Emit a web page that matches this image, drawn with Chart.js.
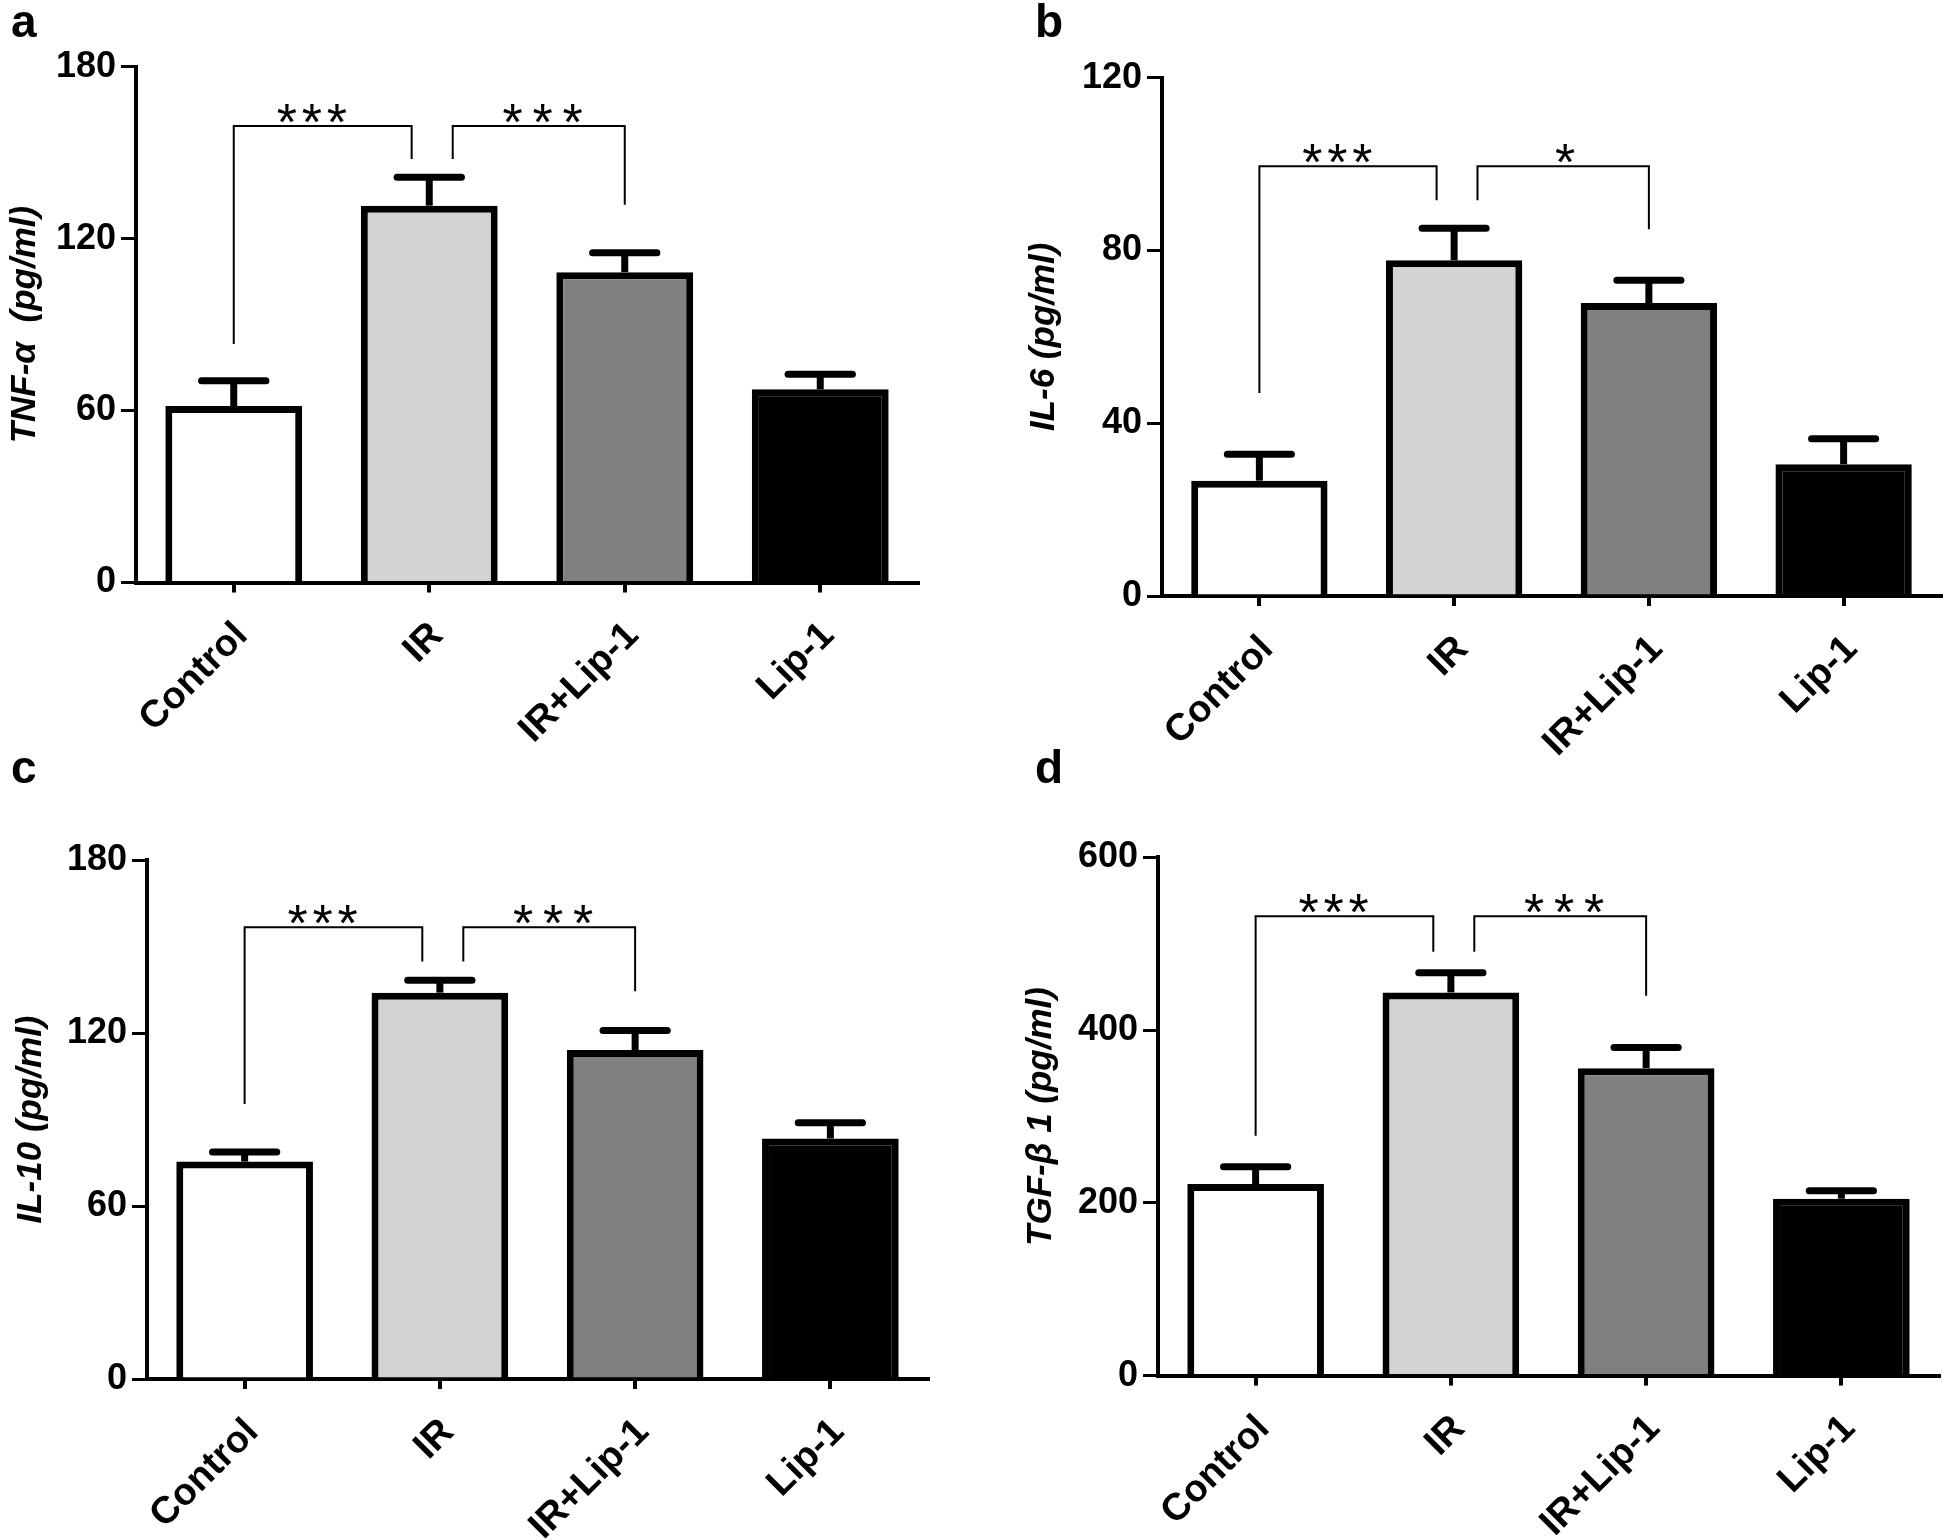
<!DOCTYPE html>
<html>
<head>
<meta charset="utf-8">
<title>Cytokine levels</title>
<script src="https://cdn.jsdelivr.net/npm/chart.js@4.4.1/dist/chart.umd.min.js"></script>
<style>
  html, body { margin: 0; padding: 0; background: #fff; }
  #wrap { position: relative; width: 1946px; height: 1540px; }
  #wrap canvas { position: absolute; }
  .letter { position: absolute; font: bold 46px "Liberation Sans", Arial, sans-serif; line-height: 1; color: #000; }
</style>
</head>
<body>
<div id="wrap">
  <canvas id="panel-a" width="973" height="770" style="left:0;top:0"></canvas>
  <canvas id="panel-b" width="973" height="770" style="left:973px;top:0"></canvas>
  <canvas id="panel-c" width="973" height="770" style="left:0;top:770px"></canvas>
  <canvas id="panel-d" width="973" height="770" style="left:973px;top:770px"></canvas>
  <div class="letter" style="left:11px;top:-2px">a</div>
  <div class="letter" style="left:1035px;top:-2px">b</div>
  <div class="letter" style="left:11px;top:744px">c</div>
  <div class="letter" style="left:1035px;top:744px">d</div>
</div>
<script>
// ── Data ──────────────────────────────────────────────────────────────────────
const groups = ["Control", "IR", "IR+Lip-1", "Lip-1"];
const barFills = ["#ffffff", "#d3d3d3", "#808080", "#000000"];

const tnfMean  = [61.6, 131.5, 108.3, 67.4];
const tnfSem   = [8.8, 9.9, 6.8, 5.3];
const il6Mean  = [26.7, 77.7, 67.8, 30.5];
const il6Sem   = [6.1, 7.4, 5.3, 5.9];
const il10Mean = [75.4, 134.0, 114.1, 83.4];
const il10Sem  = [3.3, 4.3, 6.8, 5.5];
const tgfMean  = [221.8, 443.7, 356.0, 204.8];
const tgfSem   = [19.9, 22.7, 24.0, 9.1];

const tnfTicks  = [0, 60, 120, 180];
const il6Ticks  = [0, 40, 80, 120];
const il10Ticks = [0, 60, 120, 180];
const tgfTicks  = [0, 200, 400, 600];

// significance brackets: [from group, to group, bar level, left end, right end, stars at, label]
const tnfSig  = [[0, 0.91, 159.3, 83.2, 147.8, 0.40, "***"], [1.12, 2.0, 159.3, 147.8, 131.8, 1.58, "* * *"]];
const il6Sig  = [[0, 0.91, 99.5, 47.0, 91.6, 0.40, "***"],   [1.12, 2.0, 99.5, 91.6, 84.9, 1.57, "*"]];
const il10Sig = [[0, 0.91, 156.7, 95.4, 144.8, 0.40, "***"], [1.12, 2.0, 156.7, 144.8, 134.5, 1.58, "* * *"]];
const tgfSig  = [[0, 0.91, 531.8, 277.6, 490.9, 0.40, "***"], [1.12, 2.0, 531.8, 490.9, 439.7, 1.58, "* * *"]];

// ── Styling ───────────────────────────────────────────────────────────────────
const FONT = "'Liberation Sans', Arial, sans-serif";
const CANVAS_W = 973, CANVAS_H = 770;

// error bars + significance brackets, drawn through the chart scales
const annotate = {
  id: "annotate",
  afterDatasetsDraw(chart, args, opts) {
    const { ctx } = chart;
    const xs = chart.scales.x, ys = chart.scales.y;
    const bars = chart.getDatasetMeta(0).data;
    ctx.save();
    ctx.strokeStyle = "#000";
    ctx.fillStyle = "#000";

    bars.forEach((bar, i) => {
      const top = ys.getPixelForValue(opts.mean[i] + opts.sem[i]);
      const half = bar.width * 0.235;
      ctx.lineWidth = 7;
      ctx.lineCap = "butt";
      ctx.beginPath(); ctx.moveTo(bar.x, bar.y); ctx.lineTo(bar.x, top); ctx.stroke();
      ctx.lineCap = "round";
      ctx.beginPath(); ctx.moveTo(bar.x - half, top); ctx.lineTo(bar.x + half, top); ctx.stroke();
    });

    ctx.lineWidth = 2;
    ctx.lineCap = "butt";
    ctx.font = "52px " + FONT;
    const m = ctx.measureText("*");
    opts.sig.forEach(([a, b, level, endA, endB, starAt, label]) => {
      const x0 = xs.getPixelForValue(a), x1 = xs.getPixelForValue(b);
      const yl = ys.getPixelForValue(level);
      ctx.beginPath();
      ctx.moveTo(x0, ys.getPixelForValue(endA));
      ctx.lineTo(x0, yl);
      ctx.lineTo(x1, yl);
      ctx.lineTo(x1, ys.getPixelForValue(endB));
      ctx.stroke();

      const n = label.replace(/ /g, "").length;
      const gap = label.includes(" ") ? 30 : 25;
      const cx = xs.getPixelForValue(starAt);
      const base = yl - 3 - m.actualBoundingBoxDescent;
      ctx.textAlign = "center";
      ctx.textBaseline = "alphabetic";
      for (let k = 0; k < n; k++) {
        ctx.fillText("*", cx + (k - (n - 1) / 2) * gap, base);
      }
    });
    ctx.restore();
  }
};

function makePanel(id, geo, mean, sem, ticks, title, sig) {
  return new Chart(document.getElementById(id), {
    type: "bar",
    data: {
      labels: groups,
      datasets: [{
        data: mean,
        backgroundColor: barFills,
        borderColor: "#000",
        borderWidth: 7,
        barPercentage: 0.7,
        categoryPercentage: 1,
      }],
    },
    options: {
      responsive: false,
      animation: false,
      layout: { padding: { left: geo.padLeft, top: geo.top, right: CANVAS_W - geo.right, bottom: 0 } },
      plugins: {
        legend: { display: false },
        tooltip: { enabled: false },
        annotate: { mean, sem, sig },
      },
      scales: {
        x: {
          grid: { drawOnChartArea: false, offset: false, color: "#000", lineWidth: 4, tickLength: 10 },
          border: { color: "#000", width: 4 },
          ticks: {
            color: "#000", autoSkip: false, minRotation: 45, maxRotation: 45, padding: 21, labelOffset: 8,
            font: { family: FONT, size: 38, weight: "bold" },
          },
          afterFit: (s) => { s.height = CANVAS_H - geo.bottom; },
        },
        y: {
          min: ticks[0],
          max: ticks[ticks.length - 1],
          afterBuildTicks: (s) => { s.ticks = ticks.map((v) => ({ value: v })); },
          grid: { drawOnChartArea: false, color: "#000", lineWidth: 3, tickLength: 15 },
          border: { color: "#000", width: 4 },
          ticks: { color: "#000", padding: 5, font: { family: FONT, size: 36, weight: "bold" } },
          title: {
            display: true, text: title, color: "#000", padding: { top: 0, bottom: 0 },
            font: { family: FONT, size: 35, weight: "bold", style: "italic" },
          },
          afterFit: (s) => { s.width = geo.left - geo.padLeft; },
        },
      },
    },
    plugins: [annotate],
  });
}

makePanel("panel-a", { left: 136, right: 918, top: 66.7, bottom: 582.5, padLeft: 4 },
  tnfMean, tnfSem, tnfTicks, "TNF-\u03b1  (pg/ml)", tnfSig);
makePanel("panel-b", { left: 189, right: 968, top: 77.6, bottom: 596, padLeft: 50 },
  il6Mean, il6Sem, il6Ticks, "IL-6 (pg/ml)", il6Sig);
makePanel("panel-c", { left: 147, right: 928, top: 90, bottom: 609, padLeft: 10 },
  il10Mean, il10Sem, il10Ticks, "IL-10 (pg/ml)", il10Sig);
makePanel("panel-d", { left: 185, right: 966, top: 87.4, bottom: 605.6, padLeft: 47 },
  tgfMean, tgfSem, tgfTicks, "TGF-\u03b2 1 (pg/ml)", tgfSig);
</script>
</body>
</html>
